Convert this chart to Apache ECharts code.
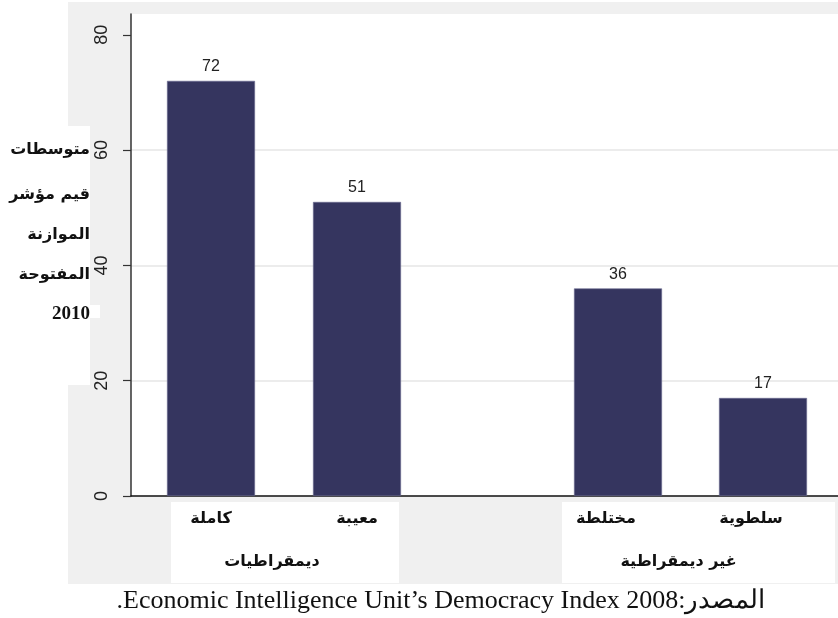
<!DOCTYPE html>
<html>
<head>
<meta charset="utf-8">
<script src="https://cdn.jsdelivr.net/npm/echarts@6/dist/echarts.min.js"></script>
<style>html,body{margin:0;padding:0;background:#fff;}#c{width:838px;height:618px;}</style>
</head>
<body>
<div id="c"></div>
<script>
// ---- data ----
const yTickValues = [0, 20, 40, 60, 80];
const yMax = 83.6;
const groupNames = ['ديمقراطيات', 'غير ديمقراطية'];
const group1Categories = ['كاملة', 'معيبة'];
const group1Values = [72, 51];
const group2Categories = ['مختلطة', 'سلطوية'];
const group2Values = [36, 17];
const yTitleLines = ['متوسطات', 'قيم مؤشر', 'الموازنة', 'المفتوحة', '2010'];
const sourceNote = '.Economic Intelligence Unit’s Democracy Index 2008:المصدر';

// ---- styles ----
const barColor = '#35355f';
const arabicFont = '"DejaVu Sans", "Noto Sans", sans-serif';
const numFont = '"Liberation Sans", Arial, sans-serif';
const serifFont = '"Liberation Serif", "Times New Roman", serif';

const chart = echarts.init(document.getElementById('c'), null, {renderer: 'canvas'});

const hiddenY = (gi) => ({
  type: 'value', gridIndex: gi, min: 0, max: yMax, show: false
});

const subAxis = (gi, cats, pad) => ({
  type: 'category', gridIndex: gi, data: cats, position: 'bottom',
  axisLine: {show: false}, axisTick: {show: false}, splitLine: {show: false},
  axisLabel: {margin: 15, fontFamily: arabicFont, fontWeight: 'bold', fontSize: 16, color: '#111',
    padding: pad, interval: 0}
});
const groupAxis = (gi, name, pad) => ({
  type: 'category', gridIndex: gi, data: [name], position: 'bottom', offset: 50,
  axisLine: {show: false}, axisTick: {show: false}, splitLine: {show: false},
  axisLabel: {margin: 8, fontFamily: arabicFont, fontWeight: 'bold', fontSize: 16, color: '#111',
    padding: pad}
});

const barSeries = (axisIdx, yIdx, vals) => ({
  type: 'bar', xAxisIndex: axisIdx, yAxisIndex: yIdx, data: vals, barWidth: 88,
  itemStyle: {color: barColor, borderColor: '#6a6a90', borderWidth: 0.6},
  label: {show: true, position: 'top', distance: 6, fontFamily: numFont, fontSize: 16, color: '#222'}
});

const titleGraphics = yTitleLines.map((t, i) => {
  const ys = [150, 195, 235, 275, 314];
  const isNum = /^[0-9]+$/.test(t);
  return {
    type: 'text', z: 10, x: 90, y: ys[i],
    style: {
      text: t, align: 'right', verticalAlign: 'middle',
      font: isNum ? 'bold 19px ' + serifFont : 'bold 16px ' + arabicFont,
      fill: '#111'
    }
  };
});

const option = {
  animation: false,
  backgroundColor: '#ffffff',
  graphic: [
    {type: 'rect', z: -20, shape: {x: 68, y: 2, width: 770, height: 582}, style: {fill: '#f0f0f0'}},
    {type: 'rect', z: -15, shape: {x: 131, y: 14, width: 707, height: 482}, style: {fill: '#ffffff'}},
    {type: 'rect', z: -10, shape: {x: 0, y: 126, width: 90, height: 259}, style: {fill: '#ffffff'}},
    {type: 'rect', z: -10, shape: {x: 90, y: 305, width: 10, height: 13}, style: {fill: '#ffffff'}},
    {type: 'rect', z: -10, shape: {x: 171, y: 502, width: 228, height: 81}, style: {fill: '#ffffff'}},
    {type: 'rect', z: -10, shape: {x: 562, y: 502, width: 273, height: 81}, style: {fill: '#ffffff'}},
    ...titleGraphics,
    {type: 'text', z: 10, x: 441, y: 601,
      style: {text: sourceNote, align: 'center', verticalAlign: 'middle',
        font: '26px ' + serifFont, fill: '#111'}}
  ],
  grid: [
    {left: 131, top: 14, width: 707, height: 482, containLabel: false},
    {left: 138, top: 14, width: 292, height: 482, containLabel: false},
    {left: 545.5, top: 14, width: 290, height: 482, containLabel: false}
  ],
  xAxis: [
    {type: 'category', gridIndex: 0, data: [''], axisLine: {show: true, lineStyle: {color: '#111', width: 1.5}},
      axisTick: {show: false}, axisLabel: {show: false}, splitLine: {show: false}},
    subAxis(1, group1Categories, [0, 0, 0, 0]),
    groupAxis(1, groupNames[0], [0, 24, 0, 0]),
    subAxis(2, group2Categories, [0, 24, 0, 0]),
    groupAxis(2, groupNames[1], [0, 24, 0, 0])
  ],
  yAxis: [
    {type: 'value', gridIndex: 0, min: 0, max: yMax, interval: 20,
      axisLine: {show: true, lineStyle: {color: '#333', width: 1.5}},
      axisTick: {show: true, length: 8, lineStyle: {color: '#333', width: 1.2},
        customValues: yTickValues},
      axisLabel: {rotate: 90, margin: 20, fontFamily: numFont, fontSize: 18, color: '#222',
        customValues: yTickValues},
      splitLine: {show: true, showMaxLine: false, showMinLine: false, lineStyle: {color: '#ececec', width: 2}}
    },
    hiddenY(1),
    hiddenY(2)
  ],
  series: [
    barSeries(1, 1, group1Values),
    barSeries(3, 2, group2Values)
  ]
};
chart.setOption(option);
</script>
</body>
</html>
